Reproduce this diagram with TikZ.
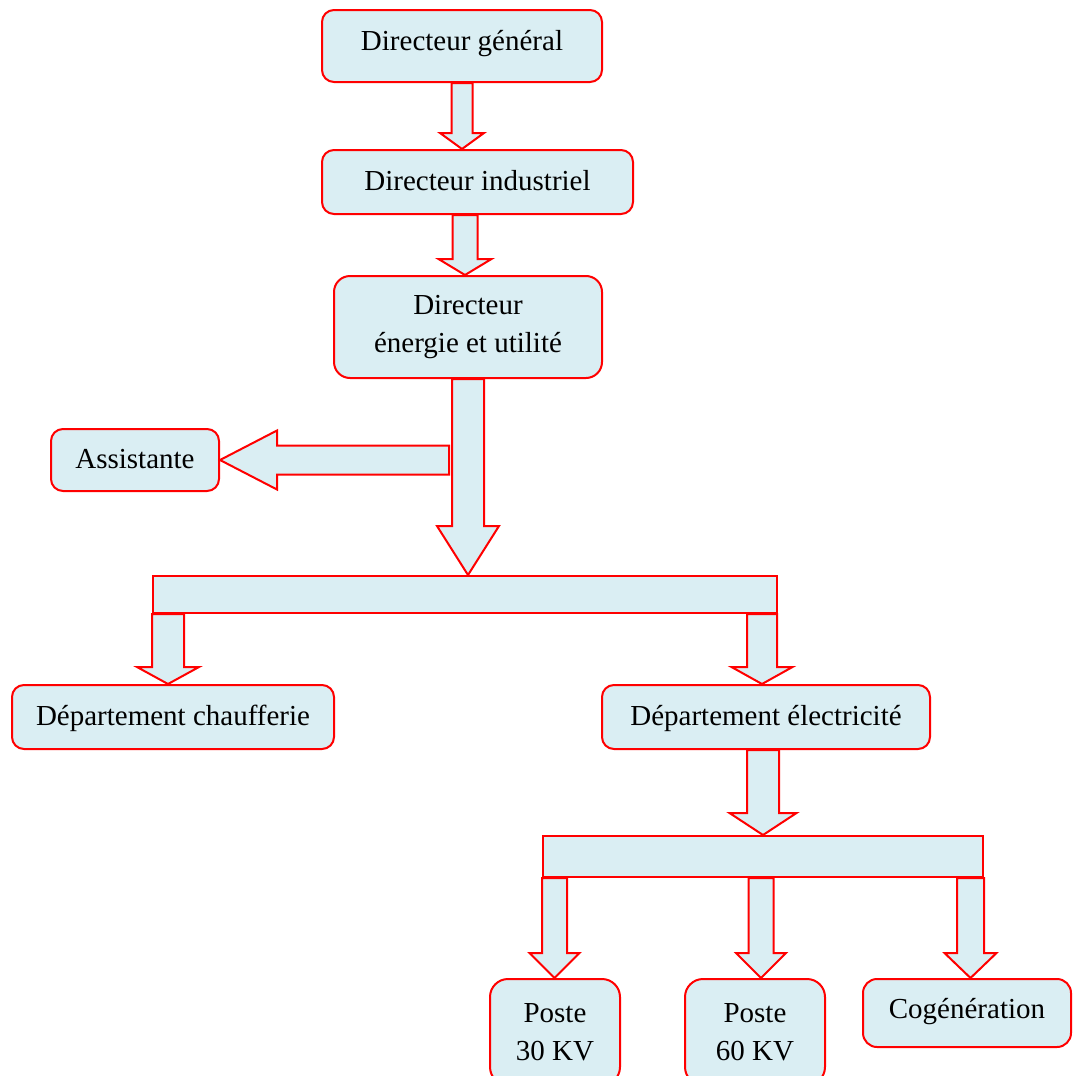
\documentclass[tikz,border=0pt]{standalone}
\usepackage{fontspec}
\setmainfont{Liberation Serif}
\usetikzlibrary{calc}
\definecolor{boxfill}{HTML}{DAEEF3}
\tikzset{
  orgbox/.style={draw=red, fill=boxfill, line width=2pt, rounded corners=12pt,
    align=center, inner sep=0pt, font=\fontsize{29}{38}\selectfont},
  barbox/.style={draw=red, fill=boxfill, line width=2pt, inner sep=0pt},
  blockarrow/.style={draw=red, fill=boxfill, line width=2pt, line join=miter}
}
% vertical block arrow: #1 start, #2 tip, #3 shaft half width, #4 head half width, #5 head length
\newcommand{\vblock}[5]{%
  \draw[blockarrow] let \p1=#1, \p2=#2 in
    (\x2-#3pt,\y1) -- (\x2-#3pt,\y2+#5pt) -- (\x2-#4pt,\y2+#5pt) -- (\x2,\y2)
    -- (\x2+#4pt,\y2+#5pt) -- (\x2+#3pt,\y2+#5pt) -- (\x2+#3pt,\y1) -- cycle;}
% left-pointing block arrow
\newcommand{\hblock}[5]{%
  \draw[blockarrow] let \p1=#1, \p2=#2 in
    (\x1,\y2+#3pt) -- (\x2+#5pt,\y2+#3pt) -- (\x2+#5pt,\y2+#4pt) -- (\x2,\y2)
    -- (\x2+#5pt,\y2-#4pt) -- (\x2+#5pt,\y2-#3pt) -- (\x1,\y2-#3pt) -- cycle;}
\begin{document}
\begin{tikzpicture}[x=1pt,y=-1pt]
\useasboundingbox (0,0) rectangle (1073,1076);
\clip (0,0) rectangle (1073,1076);
\node[orgbox, minimum width=280pt, minimum height=72pt, text height=20pt, text depth=12pt] (gen) at (462,46) {Directeur général};
\node[orgbox, minimum width=311pt, minimum height=64pt, text height=20pt, text depth=4pt] (ind) at (477.5,182) {Directeur industriel};
\node[orgbox, minimum width=268pt, minimum height=102pt, rounded corners=16pt] (ene) at (468,327) {Directeur\\énergie et utilité};
\node[orgbox, minimum width=168pt, minimum height=62pt, text height=20pt, text depth=3pt] (asst) at (135,460) {Assistante};
\node[barbox, minimum width=624pt, minimum height=37pt] (bar1) at (465,594.5) {};
\node[orgbox, minimum width=322pt, minimum height=64pt, text height=20pt, text depth=4pt] (chauf) at (173,717) {Département chaufferie};
\node[orgbox, minimum width=328pt, minimum height=64pt, text height=20pt, text depth=4pt] (elec) at (766,717) {Département électricité};
\node[barbox, minimum width=440pt, minimum height=41pt] (bar2) at (763,856.5) {};
\node[orgbox, minimum width=130pt, minimum height=106pt, rounded corners=18pt] (p30) at (555,1032) {Poste\\30 KV};
\node[orgbox, minimum width=140pt, minimum height=106pt, rounded corners=18pt] (p60) at (755,1032) {Poste\\60 KV};
\node[orgbox, minimum width=208pt, minimum height=68pt, rounded corners=14pt, text height=20pt, text depth=10pt] (cog) at (967,1013) {Cogénération};
% connectors
\coordinate (asrc) at (449,461);
\coordinate (s1) at ([xshift=16pt]bar1.south west);
\coordinate (s2) at ([xshift=-16pt]bar1.south east);
\coordinate (s3) at ([xshift=12.5pt]bar2.south west);
\coordinate (s4) at ([xshift=-2pt]bar2.south);
\coordinate (s5) at ([xshift=-13.5pt]bar2.south east);
\coordinate (t2) at ([xshift=-3pt]ene.north);
\vblock{(gen.south)}{(gen.south |- ind.north)}{10.5}{22}{16}
\vblock{(t2 |- ind.south)}{(t2)}{12.5}{26.5}{16}
\vblock{(ene.south)}{(ene.south |- bar1.north)}{16}{31}{49}
\hblock{(asrc)}{(asst.east)}{14.5}{29.5}{57}
\vblock{(s1)}{(s1 |- chauf.north)}{16}{31}{17}
\vblock{(s2)}{(s2 |- elec.north)}{15}{30.5}{17}
\vblock{(bar2.north |- elec.south)}{(bar2.north)}{16}{33.5}{22}
\vblock{(s3)}{(s3 |- p30.north)}{12.5}{25}{25}
\vblock{(s4)}{(s4 |- p60.north)}{12.5}{25}{25}
\vblock{(s5)}{(s5 |- cog.north)}{13.5}{26}{25}
\end{tikzpicture}
\end{document}
